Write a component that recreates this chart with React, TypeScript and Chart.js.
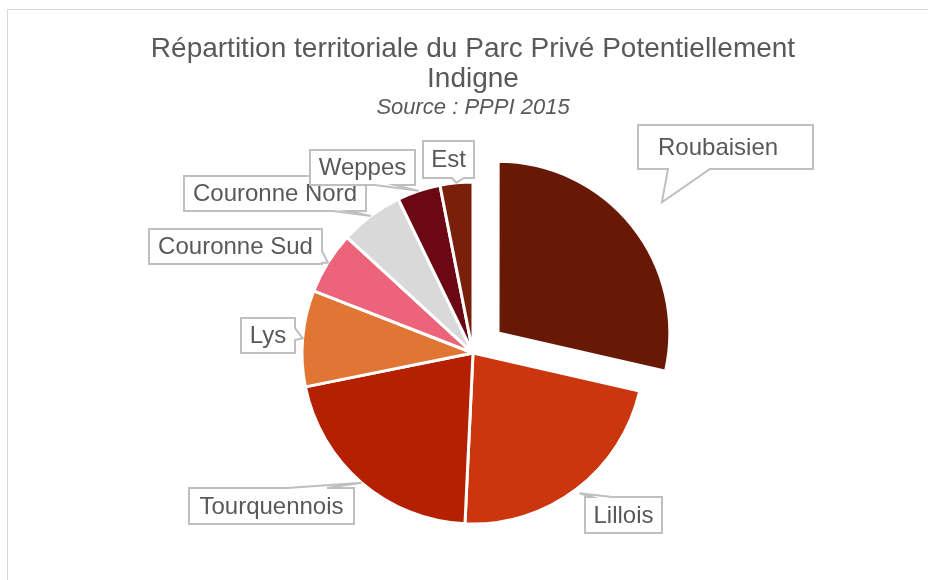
import React, { useEffect, useRef } from "react";
import { Chart, registerables } from "chart.js";

Chart.register(...registerables);

const titleLines = ["Répartition territoriale du Parc Privé Potentiellement", "Indigne"];
const subtitleText = "Source : PPPI 2015";

const categories = [
  "Roubaisien",
  "Lillois",
  "Tourquennois",
  "Lys",
  "Couronne Sud",
  "Couronne Nord",
  "Weppes",
  "Est",
];
const shares = [28.6, 22.2, 21.1, 9.1, 5.9, 6.0, 4.1, 3.1];

const sliceColors = [
  "#681906",
  "#CB360F",
  "#B52003",
  "#E07534",
  "#EC637A",
  "#D9D9D9",
  "#6B0814",
  "#7A200A",
];
// visual explode distance in px (Chart.js arc draws offset / 4)
const sliceOffsets = [32, 0, 0, 0, 0, 0, 0, 0];

// Callout box layout (style/positions only)
type Side = "top" | "right" | "bottom" | "left";
const calloutLayout: { x: number; y: number; w: number; h: number; side: Side; a: number; b: number; k: number; pad?: number }[] = [
  { x: 638, y: 125, w: 175, h: 44, side: "bottom", a: 668, b: 710, k: 1.19, pad: 20 },
  { x: 585, y: 497, w: 77, h: 36, side: "top", a: 592, b: 612, k: 1.03 },
  { x: 189, y: 488, w: 165, h: 36, side: "top", a: 287, b: 327, k: 1.0 },
  { x: 241, y: 318, w: 54, h: 35, side: "right", a: 328, b: 340, k: 1.0 },
  { x: 149, y: 229, w: 173, h: 35, side: "right", a: 251, b: 263, k: 1.0 },
  { x: 184, y: 176, w: 182, h: 35, side: "bottom", a: 333, b: 348, k: 1.0 },
  { x: 310, y: 150, w: 105, h: 35, side: "bottom", a: 375, b: 395, k: 1.0 },
  { x: 423, y: 141, w: 51, h: 37, side: "bottom", a: 452, b: 464, k: 1.0 },
];

const FONT = "'Liberation Sans', Arial, sans-serif";

const framePlugin = {
  id: "frame",
  beforeDraw(chart: any) {
    const ctx = chart.ctx;
    ctx.save();
    ctx.fillStyle = "#ffffff";
    ctx.fillRect(0, 0, chart.width, chart.height);
    ctx.strokeStyle = "#D9D9D9";
    ctx.lineWidth = 1;
    ctx.strokeRect(7.5, 9.5, chart.width + 20, chart.height + 20);
    ctx.restore();
  },
};

const calloutPlugin = {
  id: "callouts",
  afterDatasetsDraw(chart: any) {
    const ctx = chart.ctx;
    const meta = chart.getDatasetMeta(0);
    ctx.save();
    meta.data.forEach((arc: any, i: number) => {
      const L = calloutLayout[i];
      if (!L) return;
      const p = arc.getProps(["x", "y", "startAngle", "endAngle", "outerRadius"], true);
      const mid = (p.startAngle + p.endAngle) / 2;
      const dist = (p.outerRadius + (sliceOffsets[i] || 0)) * L.k;
      const tx = p.x + Math.cos(mid) * dist;
      const ty = p.y + Math.sin(mid) * dist;
      const x = L.x, y = L.y, x2 = L.x + L.w, y2 = L.y + L.h;
      ctx.beginPath();
      ctx.moveTo(x, y);
      if (L.side === "top") {
        ctx.lineTo(L.a, y); ctx.lineTo(tx, ty); ctx.lineTo(L.b, y);
      }
      ctx.lineTo(x2, y);
      if (L.side === "right") {
        ctx.lineTo(x2, L.a); ctx.lineTo(tx, ty); ctx.lineTo(x2, L.b);
      }
      ctx.lineTo(x2, y2);
      if (L.side === "bottom") {
        ctx.lineTo(L.b, y2); ctx.lineTo(tx, ty); ctx.lineTo(L.a, y2);
      }
      ctx.lineTo(x, y2);
      if (L.side === "left") {
        ctx.lineTo(x, L.b); ctx.lineTo(tx, ty); ctx.lineTo(x, L.a);
      }
      ctx.closePath();
      ctx.fillStyle = "#ffffff";
      ctx.fill();
      ctx.strokeStyle = "#BFBFBF";
      ctx.lineWidth = 2;
      ctx.lineJoin = "miter";
      ctx.stroke();

      ctx.fillStyle = "#595959";
      ctx.font = `24px ${FONT}`;
      ctx.textBaseline = "middle";
      if (L.pad !== undefined) {
        ctx.textAlign = "left";
        ctx.fillText(categories[i], x + L.pad, y + L.h / 2 + 1);
      } else {
        ctx.textAlign = "center";
        ctx.fillText(categories[i], x + L.w / 2, y + L.h / 2 + 1);
      }
    });
    ctx.restore();
  },
};

export default function App() {
  const ref = useRef<HTMLCanvasElement | null>(null);
  useEffect(() => {
    if (!ref.current) return;
    const chart = new Chart(ref.current, {
      type: "pie",
      data: {
        labels: categories,
        datasets: [
          {
            data: shares,
            backgroundColor: sliceColors,
            borderColor: "#ffffff",
            borderWidth: 3,
            offset: sliceOffsets.map((v) => v * 4),
            radius: 171,
          } as any,
        ],
      },
      options: {
        responsive: false,
        animation: false,
        layout: { padding: { left: 18, right: 0, top: 0, bottom: 0 } },
        plugins: {
          legend: { display: false },
          tooltip: { enabled: false },
          title: {
            display: true,
            text: titleLines,
            color: "#595959",
            font: { family: FONT, size: 28, weight: "normal", lineHeight: 1.09 },
            padding: { top: 34, bottom: 0 },
          },
          subtitle: {
            display: true,
            text: subtitleText,
            color: "#595959",
            font: { family: FONT, size: 22, style: "italic", weight: "normal", lineHeight: 1.0 },
            padding: { top: 2, bottom: 7 },
          },
        },
      } as any,
      plugins: [framePlugin, calloutPlugin],
    });
    return () => chart.destroy();
  }, []);
  return (
    <div style={{ position: "absolute", left: 0, top: 0, width: 928, height: 580, background: "#fff" }}>
      <canvas ref={ref} width={928} height={580} style={{ display: "block", width: 928, height: 580 }} />
    </div>
  );
}
